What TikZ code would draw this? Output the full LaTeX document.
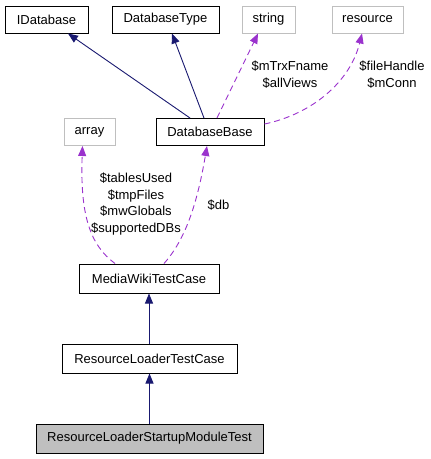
\documentclass[tikz,border=0pt]{standalone}
\usepackage{fontspec}
\setmainfont{Liberation Sans}
\usetikzlibrary{arrows.meta}
\definecolor{navyedge}{HTML}{191970}
\definecolor{purpleedge}{HTML}{9A32CD}
\definecolor{grayborder}{HTML}{BFBFBF}
\begin{document}
\begin{tikzpicture}[x=1pt,y=-1pt,
  every node/.style={font=\fontsize{13}{16.8}\selectfont, inner sep=0pt},
  cls/.style={draw=black, line width=1pt, minimum height=27pt, fill=white},
  ext/.style={draw=grayborder, line width=1pt, minimum height=27pt, fill=white},
  inh/.style={draw=navyedge, line width=0.9pt, -{Triangle[length=10pt,width=8pt]}},
  use/.style={draw=purpleedge, line width=0.9pt, dash pattern=on 6pt off 4pt, -{Triangle[length=10pt,width=8pt]}},
  lbl/.style={align=center}]
\useasboundingbox (0,0) rectangle (431,459);
\node[cls, minimum width=83pt] (idb) at (46.5,19.5) {IDatabase};
\node[cls, minimum width=107pt] (dbt) at (165.5,19.5) {DatabaseType};
\node[ext, minimum width=53pt] (str) at (268.5,19.5) {string};
\node[ext, minimum width=71pt] (res) at (367.5,19.5) {resource};
\node[cls, minimum width=108pt] (dbb) at (210,132) {DatabaseBase};
\node[ext, minimum width=51pt] (arr) at (89.5,132) {array};
\node[cls, minimum width=140pt, minimum height=29pt] (mwtc) at (149,278.5) {MediaWikiTestCase};
\node[cls, minimum width=175pt, minimum height=29pt] (rltc) at (149.5,358.5) {ResourceLoaderTestCase};
\node[cls, fill=grayborder, minimum width=227pt, minimum height=29pt] (rlsmt) at (149.5,438.5) {ResourceLoaderStartupModuleTest};

\draw[inh] ([xshift=-20pt]dbb.north) -- ([xshift=21.5pt]idb.south);
\draw[inh] ([xshift=-6pt]dbb.north) -- ([xshift=6.5pt]dbt.south);
\draw[use] ([xshift=7pt]dbb.north) -- ([xshift=-10.5pt]str.south);
\draw[use] ([yshift=8pt]dbb.east) .. controls (312,114) and (350,82) .. ([xshift=-5.5pt]res.south);
\draw[use] ([xshift=-34pt]mwtc.north) .. controls (90,245) and (80,215) .. ([xshift=-7pt]arr.south);
\draw[use] ([xshift=15pt]mwtc.north) .. controls (185,240) and (197,205) .. ([xshift=-3pt]dbb.south);
\draw[inh] (rltc.north -| mwtc.south) -- (mwtc.south);
\draw[inh] (rlsmt.north -| rltc.south) -- (rltc.south);

\node[lbl] (l1) at (290,75) {\$mTrxFname\\\$allViews};
\node[lbl] (l2) at (392,75) {\$fileHandle\\\$mConn};
\node[lbl] (l3) at (136,204) {\$tablesUsed\\\$tmpFiles\\\$mwGlobals\\\$supportedDBs};
\node[lbl] (l4) at (218.5,205) {\$db};
\end{tikzpicture}
\end{document}
